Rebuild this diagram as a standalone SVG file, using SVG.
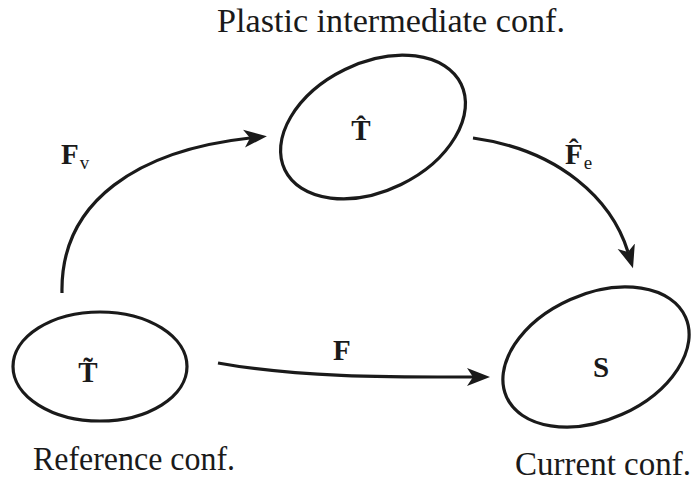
<svg xmlns="http://www.w3.org/2000/svg" width="693" height="482" viewBox="0 0 693 482">
<defs>
<style>
.node{fill:none;stroke:#1a1a1a;stroke-width:3.2}
.conn{fill:none;stroke:#1a1a1a;stroke-width:3.2}
.cap{font-family:"Liberation Serif",serif;font-size:33px;fill:#1a1a1a}
.lbl{font-family:"Liberation Serif",serif;font-size:29px;font-weight:bold;fill:#1a1a1a}
.sub{font-family:"Liberation Serif",serif;font-size:19px;font-weight:normal}
</style>
<marker id="ah" markerUnits="userSpaceOnUse" markerWidth="30" markerHeight="24" refX="6" refY="9" orient="auto" viewBox="0 0 30 18">
<path d="M0,0 L23,9 L0,18 L6,9 Z" fill="#1a1a1a"/>
</marker>
</defs>
<rect width="693" height="482" fill="#fff"/>
<g id="connectors">
<path class="conn" d="M62,293 C60,200 140,150 250,138" marker-end="url(#ah)"/>
<path class="conn" d="M473,138 C560,150 612,200 628,252" marker-end="url(#ah)"/>
<path class="conn" d="M218,363 C300,378 400,377 473,377" marker-end="url(#ah)"/>
</g>
<g id="plastic">
<ellipse class="node" cx="373" cy="127" rx="98" ry="64" transform="rotate(-26 373 127)"/>
<text class="lbl" x="361" y="140" text-anchor="middle">T̂</text>
<text class="cap" x="391" y="32" text-anchor="middle" textLength="348" lengthAdjust="spacingAndGlyphs">Plastic intermediate conf.</text>
</g>
<g id="reference">
<ellipse class="node" cx="100" cy="366.5" rx="87" ry="54.5"/>
<text class="lbl" x="88" y="382" text-anchor="middle">T̃</text>
<text class="cap" x="134" y="470" text-anchor="middle" textLength="202" lengthAdjust="spacingAndGlyphs">Reference conf.</text>
</g>
<g id="current">
<ellipse class="node" cx="596" cy="357" rx="98" ry="63" transform="rotate(-24 596 357)"/>
<text class="lbl" x="601" y="377" text-anchor="middle">S</text>
<text class="cap" x="603" y="475" text-anchor="middle" textLength="176" lengthAdjust="spacingAndGlyphs">Current conf.</text>
</g>
<g id="labels">
<text class="lbl" x="61" y="164">F<tspan class="sub" dx="1" dy="5">v</tspan></text>
<text class="lbl" x="565" y="164">F̂<tspan class="sub" dx="1" dy="5">e</tspan></text>
<text class="lbl" x="333" y="360">F</text>
</g>
</svg>
